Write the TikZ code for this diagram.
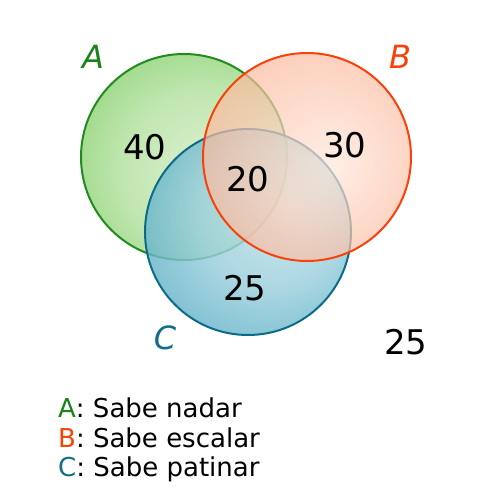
\documentclass[tikz,border=0pt]{standalone}
\usepackage{fontspec}
\setmainfont{DejaVu Sans}
\usetikzlibrary{positioning}
\definecolor{SetGreen}{RGB}{25,130,25}
\definecolor{SetOrange}{RGB}{250,65,10}
\definecolor{SetTeal}{RGB}{20,110,135}
\definecolor{GreenIn}{RGB}{225,242,212}
\definecolor{GreenOut}{RGB}{80,190,50}
\definecolor{OrangeIn}{RGB}{255,232,220}
\definecolor{OrangeOut}{RGB}{250,150,110}
\definecolor{TealIn}{RGB}{198,230,236}
\definecolor{TealOut}{RGB}{15,135,170}
\pgfdeclareradialshading{shadeA}{\pgfpoint{8bp}{-6bp}}{color(0bp)=(GreenIn); color(20bp)=(GreenIn!75!GreenOut); color(40bp)=(GreenIn!30!GreenOut); color(50bp)=(GreenOut)}
\pgfdeclareradialshading{shadeB}{\pgfpoint{6bp}{-2bp}}{color(0bp)=(OrangeIn); color(22bp)=(OrangeIn!55!OrangeOut); color(50bp)=(OrangeOut)}
\pgfdeclareradialshading{shadeC}{\pgfpoint{10bp}{6bp}}{color(0bp)=(TealIn); color(18bp)=(TealIn!75!TealOut); color(38bp)=(TealIn!30!TealOut); color(50bp)=(TealOut)}
\tikzset{setA/.style={circle,shading=shadeA,fill opacity=0.95,draw=SetGreen!85!GreenOut,line width=2pt,minimum size=206pt,inner sep=0pt},
setB/.style={circle,shading=shadeB,fill opacity=0.7,draw=SetOrange,line width=2pt,minimum size=208pt,inner sep=0pt},
setC/.style={circle,shading=shadeC,fill opacity=0.82,draw=TealOut!80!black,line width=2pt,minimum size=206pt,inner sep=0pt},
num/.style={font=\fontsize{34}{40}\selectfont,text=black},
setname/.style={font=\fontsize{32}{36}\selectfont\itshape},
leg/.style={font=\fontsize{26}{30}\selectfont,anchor=base west,inner sep=0pt}}

\begin{document}
\begin{tikzpicture}[x=1pt,y=-1pt]
\useasboundingbox[fill=white] (0,0) rectangle (500,500);
\coordinate (ca) at (184,157);
\coordinate (cb) at (307,157);
\coordinate (cc) at (248,232);
\node[setA] (sa) at (ca) {};
\node[setC] (sc) at (cc) {};
\node[setB] (sb) at (cb) {};
\node[setname,text=SetGreen] (na) at (93,57) {A};
\node[setname,text=SetOrange] (nb) at (400,57) {B};
\node[setname,text=SetTeal] (nc) at (165,338) {C};
\node[num] (onlyA) at (145,147) {40};
\node[num] (onlyB) at (345,145) {30};
\node[num] (abc) at (248,179) {20};
\node[num] (onlyC) at (245,288) {25};
\node[num] (none) at (406,342) {25};
\node[leg] (la) at (58,417) {\textcolor{SetGreen}{A}: Sabe nadar};
\node[leg] (lb) at (58,447) {\textcolor{SetOrange}{B}: Sabe escalar};
\node[leg] (lc) at (58,476) {\textcolor{SetTeal}{C}: Sabe patinar};
\end{tikzpicture}
\end{document}
